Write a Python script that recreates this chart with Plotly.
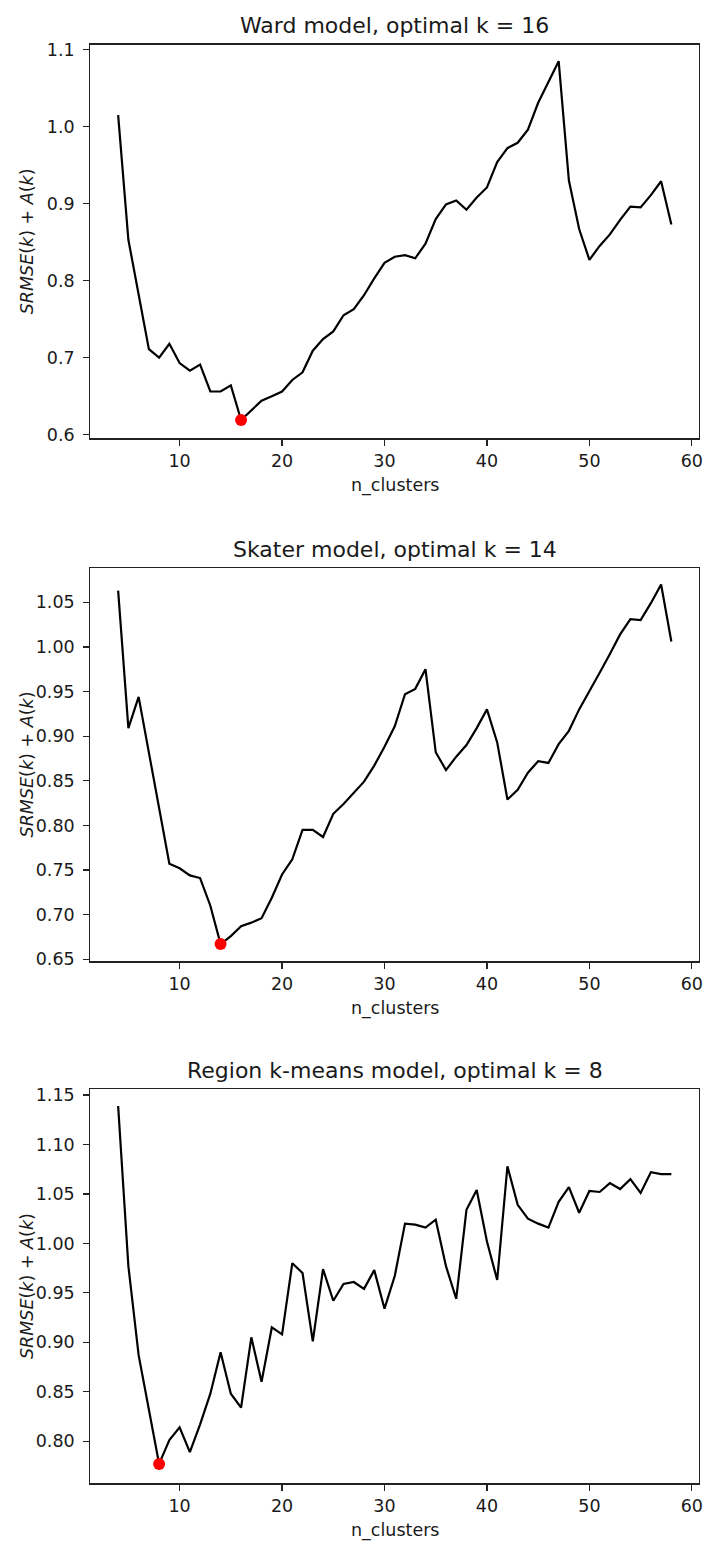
import plotly.graph_objects as go

W, H = 705, 1551

k_values = list(range(4, 59))

ward_scores = [1.015, 0.853, 0.782, 0.711, 0.700, 0.718, 0.693, 0.683, 0.691, 0.656,
               0.656, 0.664, 0.619, 0.632, 0.644, 0.650, 0.656, 0.671, 0.681, 0.709,
               0.724, 0.734, 0.755, 0.763, 0.781, 0.803, 0.823, 0.831, 0.833, 0.829,
               0.848, 0.880, 0.899, 0.904, 0.892, 0.908, 0.921, 0.954, 0.972, 0.979,
               0.996, 1.031, 1.059, 1.085, 0.930, 0.867, 0.827, 0.845, 0.860, 0.879,
               0.896, 0.895, 0.911, 0.929, 0.873]

skater_scores = [1.063, 0.909, 0.944, 0.882, 0.820, 0.757, 0.752, 0.744, 0.741, 0.710,
                 0.667, 0.676, 0.687, 0.691, 0.696, 0.719, 0.745, 0.762, 0.795, 0.795,
                 0.787, 0.813, 0.824, 0.837, 0.849, 0.867, 0.888, 0.911, 0.947, 0.953,
                 0.975, 0.882, 0.862, 0.877, 0.890, 0.909, 0.930, 0.893, 0.829, 0.840,
                 0.859, 0.872, 0.870, 0.891, 0.906, 0.930, 0.950, 0.971, 0.992, 1.014,
                 1.031, 1.030, 1.049, 1.070, 1.006]

kmeans_scores = [1.139, 0.977, 0.887, 0.830, 0.777, 0.801, 0.814, 0.789, 0.817, 0.848,
                 0.890, 0.848, 0.834, 0.905, 0.860, 0.915, 0.908, 0.980, 0.970, 0.901,
                 0.974, 0.942, 0.959, 0.961, 0.954, 0.973, 0.934, 0.967, 1.020, 1.019,
                 1.016, 1.024, 0.977, 0.944, 1.034, 1.054, 1.002, 0.963, 1.078, 1.039,
                 1.025, 1.020, 1.016, 1.042, 1.057, 1.031, 1.053, 1.052, 1.061, 1.055,
                 1.065, 1.051, 1.072, 1.070, 1.070]

titles = ["Ward model, optimal k = 16",
          "Skater model, optimal k = 14",
          "Region k-means model, optimal k = 8"]
optimal_k = [16, 14, 8]
series = [ward_scores, skater_scores, kmeans_scores]
y_ranges = [[0.5952, 1.1064], [0.6478, 1.0885], [0.7575, 1.156]]
y_ticks = [[0.6, 0.7, 0.8, 0.9, 1.0, 1.1],
           [0.65, 0.70, 0.75, 0.80, 0.85, 0.90, 0.95, 1.00, 1.05],
           [0.80, 0.85, 0.90, 0.95, 1.00, 1.05, 1.10, 1.15]]
y_ticktext = [["0.6", "0.7", "0.8", "0.9", "1.0", "1.1"],
              ["0.65", "0.70", "0.75", "0.80", "0.85", "0.90", "0.95", "1.00", "1.05"],
              ["0.80", "0.85", "0.90", "0.95", "1.00", "1.05", "1.10", "1.15"]]
x_ticks = [10, 20, 30, 40, 50, 60]
x_range = [1.3, 60.7]

# pixel geometry of axes (top, bottom)
panels_px = [(40, 437), (567.7, 964.3), (1093.3, 1490.7)]
x_px = (91, 703)

FONT = "DejaVu Sans, Liberation Sans, sans-serif"
TXT = "#1a1a1a"

fig = go.Figure()
annotations = []
for i in range(3):
    xa = "x" if i == 0 else f"x{i+1}"
    ya = "y" if i == 0 else f"y{i+1}"
    ys = series[i]
    fig.add_trace(go.Scatter(x=k_values, y=ys, mode="lines",
                             line=dict(color="black", width=2.2),
                             xaxis=xa, yaxis=ya, showlegend=False,
                             hoverinfo="skip"))
    opt = optimal_k[i]
    fig.add_trace(go.Scatter(x=[opt], y=[ys[k_values.index(opt)]], mode="markers",
                             marker=dict(color="red", size=12, line=dict(width=0)),
                             xaxis=xa, yaxis=ya, showlegend=False,
                             hoverinfo="skip"))
    top, bot = panels_px[i]
    dom_y = [1 - bot / H, 1 - top / H]
    axis_common = dict(showgrid=False, zeroline=False, showline=True, mirror=True,
                       linecolor="#222222", linewidth=1.3, ticks="outside", ticklen=6,
                       tickwidth=1.3, tickcolor="#222222",
                       ticklabeloverflow="allow",
                       tickfont=dict(family=FONT, size=17.5, color=TXT))
    key_x = "xaxis" if i == 0 else f"xaxis{i+1}"
    key_y = "yaxis" if i == 0 else f"yaxis{i+1}"
    fig.update_layout({
        key_x: dict(domain=[x_px[0] / W, x_px[1] / W], range=x_range,
                    tickvals=x_ticks, anchor=ya, ticklabelstandoff=0, **axis_common),
        key_y: dict(domain=dom_y, range=y_ranges[i], tickvals=y_ticks[i],
                    ticktext=y_ticktext[i], anchor=xa, ticklabelstandoff=5,
                    **axis_common),
    })
    cx = (x_px[0] + x_px[1]) / 2 / W
    annotations.append(dict(text=titles[i], x=cx, y=1 - (top - 19) / H,
                            xref="paper", yref="paper", showarrow=False,
                            xanchor="center", yanchor="middle",
                            font=dict(family=FONT, size=22, color=TXT)))
    annotations.append(dict(text="n_clusters", x=cx, y=1 - (bot + 48) / H,
                            xref="paper", yref="paper", showarrow=False,
                            xanchor="center", yanchor="middle",
                            font=dict(family=FONT, size=17.5, color=TXT)))
    annotations.append(dict(text="<i>SRMSE</i>(<i>k</i>) + <i>A</i>(<i>k</i>)",
                            x=27 / W, y=1 - ((top + bot) / 2) / H,
                            xref="paper", yref="paper", showarrow=False,
                            xanchor="center", yanchor="middle", textangle=-90,
                            font=dict(family=FONT, size=17.5, color=TXT)))

fig.update_layout(width=W, height=H, margin=dict(l=0, r=0, t=0, b=0),
                  paper_bgcolor="white", plot_bgcolor="white",
                  annotations=annotations, showlegend=False,
                  font=dict(family=FONT))

fig.write_html("out.html",
               config={"displayModeBar": False, "staticPlot": True},
               post_script="document.body.style.margin='0';"
                           "document.body.style.overflow='hidden';")
